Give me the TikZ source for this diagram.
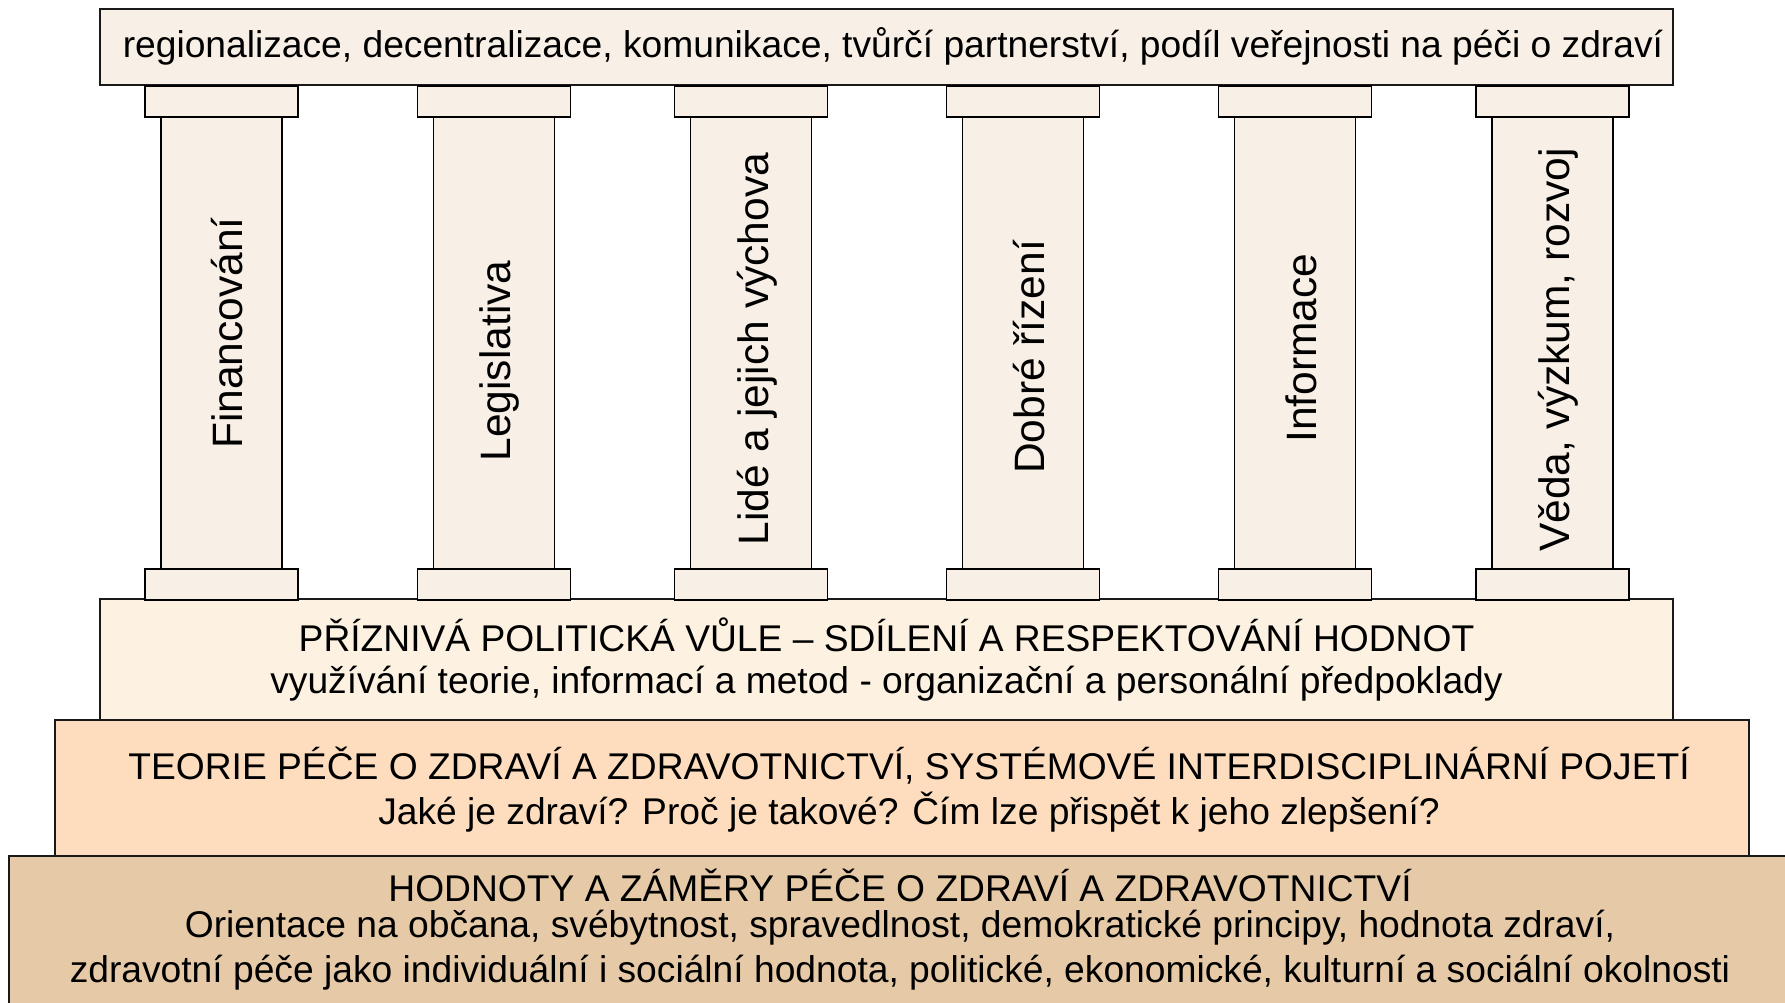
\documentclass[tikz,border=0pt]{standalone}
\usepackage{fontspec}
\setmainfont{Liberation Sans}
\definecolor{columncol}{HTML}{F8F0E6}
\definecolor{willcol}{HTML}{FDF2E1}
\definecolor{theorycol}{HTML}{FEDDBF}
\definecolor{valuecol}{HTML}{E6CAA7}
\tikzset{slab/.style={
    draw=black!90, line width=1.8pt, fill=#1,
    inner sep=0pt, outer sep=0pt,
    anchor=north west, align=center,
    font=\fontsize{37.2}{45}\selectfont
  },
  slab/.default=columncol,
  column part/.style={
    draw=black, line width=1.8pt, fill=columncol,
    inner sep=0pt, anchor=north
  },
  column text/.style={
    rotate=90, inner sep=0pt,
    font=\fontsize{42.5}{50}\selectfont
  }
}

\begin{document}
\begin{tikzpicture}[x=1pt,y=-1pt]
    \useasboundingbox (0,0) rectangle (1785,1002);
    \clip (0,0) rectangle (1785,1002);
    % foundations, bottom up
    \node[slab=valuecol, minimum width=1782pt, minimum height=160pt] (values) at (9,856) {};
    \node[slab=theorycol, minimum width=1694pt, minimum height=136pt] (theory) at (55,720) {};
    \node[align=center, inner sep=0pt, font=\fontsize{37.2}{45}\selectfont] (theotext) at (909,790)
        {TEORIE PÉČE O ZDRAVÍ A ZDRAVOTNICTVÍ, SYSTÉMOVÉ INTERDISCIPLINÁRNÍ POJETÍ\\
         Jaké je zdraví? Proč je takové? Čím lze přispět k jeho zlepšení?};
    \node[slab=willcol, minimum width=1573pt, minimum height=121pt] (will) at (100,599)
        {PŘÍZNIVÁ POLITICKÁ VŮLE – SDÍLENÍ A RESPEKTOVÁNÍ HODNOT\\[-3pt]
         využívání teorie, informací a metod - organizační a personální předpoklady};
    \node[slab, minimum width=1573pt, minimum height=76pt] (roof) at (100,9) {};
    \node[inner sep=0pt, font=\fontsize{37.2}{45}\selectfont] (rooftext) at (893,46)
        {regionalizace, decentralizace, komunikace, tvůrčí partnerství, podíl veřejnosti na péči o zdraví};
    \node[align=center, inner sep=0pt, font=\fontsize{37.2}{45}\selectfont] (valtext) at (900,930)
        {HODNOTY A ZÁMĚRY PÉČE O ZDRAVÍ A ZDRAVOTNICTVÍ\\[-9pt]
         Orientace na občana, svébytnost, spravedlnost, demokratické principy, hodnota zdraví,\\
         zdravotní péče jako individuální i sociální hodnota, politické, ekonomické, kulturní a sociální okolnosti};
    % pillars
    \foreach \x/\y/\lbl [count=\i] in {221.5/333/Financování, 494/361/Legislativa,
        751/349/Lidé a jejich výchova, 1023/357/Dobré řízení,
        1295/348/Informace, 1552.5/350/{Věda, výzkum, rozvoj}}
    {
        \node[column part, minimum width=121pt, minimum height=452pt] (shaft\i) at (\x,116) {};
        \node[column part, minimum width=153pt, minimum height=31pt] (cap\i) at (\x,85) {};
        \node[column part, minimum width=153pt, minimum height=31pt] (base\i) at (\x,568) {};
        \node[column text] (lbl\i) at (\x+6,\y) {\lbl};
    }
\end{tikzpicture}
\end{document}
